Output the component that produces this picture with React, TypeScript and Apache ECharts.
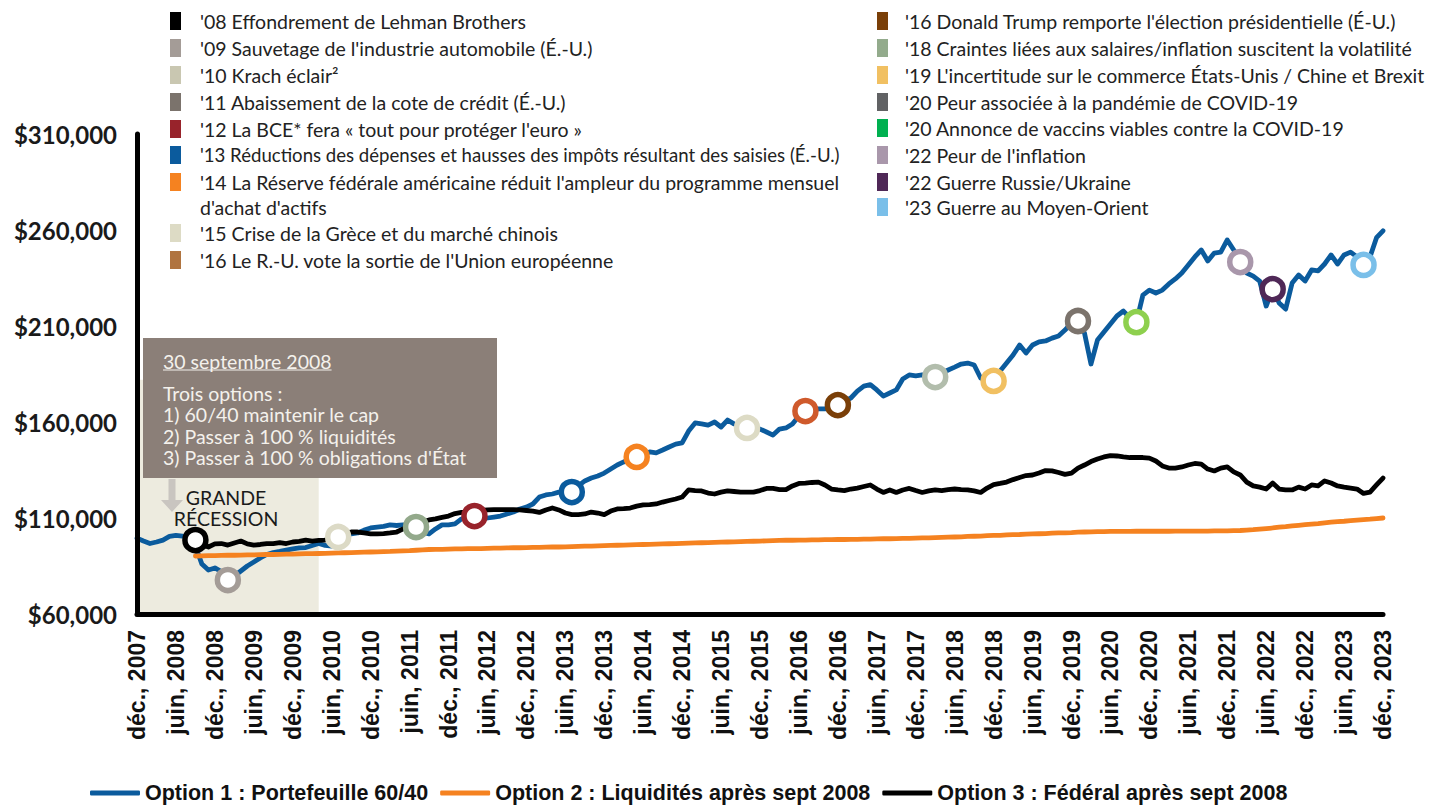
import React, { useEffect, useRef } from "react";
import * as echarts from "echarts";

// ---------- DATA ----------
const MONTHS = ["janv.", "févr.", "mars", "avr.", "mai", "juin", "juil.", "août", "sept.", "oct.", "nov.", "déc."];
const categories: string[] = ["déc., 2007"];
for (let y = 2008; y <= 2023; y++) for (let m = 0; m < 12; m++) categories.push(`${MONTHS[m]}, ${y}`);

const yTicks = [60, 110, 160, 210, 260, 310]; // thousands of $

// Option 1 : Portefeuille 60/40 (thousands of $), déc. 2007 .. déc. 2023
const option1 = [
  99.5, 98.0, 96.7, 97.5, 98.5, 100.4, 101.0, 100.6, 99.6, 95.4,
  86.0, 82.9, 84.0, 82.1, 77.7, 79.8, 82.4, 85.0, 87.1, 89.2,
  91.0, 92.0, 92.6, 93.3, 93.9, 94.4, 94.6, 95.7, 96.7, 95.7,
  95.4, 100.1, 101.1, 101.7, 102.2, 103.7, 104.8, 105.3, 105.6, 106.4,
  106.1, 106.4, 106.1, 105.3, 102.7, 101.7, 104.3, 106.4, 106.4, 106.9,
  109.5, 110.5, 111.0, 110.5, 110.0, 110.5, 111.0, 112.1, 113.1, 114.7,
  115.7, 117.3, 120.9, 122.0, 122.5, 123.5, 123.0, 123.5, 126.7, 129.3,
  130.8, 131.9, 133.4, 135.5, 137.6, 139.2, 140.7, 141.8, 142.8, 144.4,
  143.9, 145.4, 147.0, 148.5, 149.1, 155.3, 159.5, 159.0, 158.4, 160.0,
  157.4, 161.0, 159.0, 157.4, 156.9, 156.9, 156.3, 154.8, 153.2, 156.3,
  156.9, 159.0, 163.1, 165.7, 166.2, 166.8, 166.8, 167.8, 168.8, 170.9,
  172.5, 176.1, 178.7, 179.5, 176.7, 173.5, 175.1, 176.7, 182.4, 184.5,
  184.0, 184.5, 184.0, 183.4, 185.5, 187.1, 188.6, 190.2, 190.7, 189.7,
  182.9, 181.4, 181.4, 186.6, 190.7, 194.9, 200.1, 195.9, 200.1, 201.7,
  202.2, 203.7, 204.8, 207.9, 211.6, 212.6, 206.3, 190.2, 202.7, 206.9,
  211.0, 215.2, 217.8, 214.2, 212.0, 226.1, 228.7, 227.2, 228.7, 231.9,
  234.5, 237.6, 241.8, 246.0, 249.6, 243.9, 248.0, 248.5, 254.8, 249.6,
  243.3, 237.6, 236.0, 233.4, 220.4, 229.2, 222.0, 218.8, 232.4, 236.6,
  233.4, 239.2, 238.7, 242.3, 247.0, 242.3, 247.0, 248.5, 246.0, 241.8,
  246.0, 256.0, 259.6,
];

// Option 2 : Liquidités après sept 2008 (starts sept. 2008)
const option2 = [
  null, null, null, null, null, null, null, null, null,
  90.2, 90.3, 90.4, 90.4, 90.5, 90.6, 90.6, 90.7, 90.8, 90.8,
  90.9, 91.0, 91.0, 91.1, 91.2, 91.2, 91.3, 91.4, 91.4, 91.5,
  91.6, 91.7, 91.8, 91.9, 92.0, 92.1, 92.2, 92.3, 92.4, 92.5,
  92.6, 92.8, 92.9, 93.0, 93.2, 93.4, 93.6,
  93.7, 93.7, 93.8, 93.9, 93.9, 94.0, 94.1, 94.1, 94.2, 94.3,
  94.3, 94.4, 94.5, 94.5, 94.6, 94.7, 94.7, 94.8, 94.9, 94.9,
  95.0, 95.1, 95.2, 95.3, 95.4,
  95.5, 95.6, 95.7, 95.8, 95.9, 96.0, 96.1, 96.2, 96.3, 96.4,
  96.5, 96.6, 96.7, 96.8, 96.9, 97.0, 97.1, 97.2, 97.3, 97.4,
  97.5, 97.6, 97.7, 97.8, 97.9, 98.0, 98.1, 98.2, 98.3, 98.4,
  98.4, 98.5,
  98.5, 98.6, 98.6, 98.7, 98.7, 98.8, 98.8, 98.9, 98.9, 99.0,
  99.0, 99.1, 99.2, 99.2, 99.3, 99.4, 99.4, 99.5, 99.6,
  99.7, 99.8, 99.9, 100.0, 100.1, 100.2, 100.4, 100.5, 100.6, 100.8,
  100.9, 101.0, 101.2, 101.3, 101.4, 101.6, 101.7, 101.8, 101.9, 102.1,
  102.2, 102.3, 102.4, 102.6, 102.7,
  102.8, 102.9, 102.9, 103.0, 103.0, 103.0, 103.0, 103.1, 103.1, 103.1,
  103.1, 103.1, 103.1, 103.2, 103.2, 103.2, 103.2, 103.2, 103.2, 103.3,
  103.3, 103.3, 103.4, 103.5,
  103.7, 103.9, 104.2, 104.5, 104.8, 105.2, 105.5, 105.9, 106.2, 106.5,
  106.8, 107.1, 107.5, 107.8, 108.1, 108.3, 108.6, 108.9, 109.2, 109.4,
  109.7, 110.0,
];

// Option 3 : Fédéral après sept 2008 (starts sept. 2008)
const option3 = [
  null, null, null, null, null, null, null, null, null,
  98.5, 95.9, 94.9, 96.5, 96.7, 95.9, 97.0, 98.0, 96.5, 95.9,
  96.2, 96.7, 96.7, 97.2, 96.7, 97.5, 97.8, 98.5, 98.0, 98.3,
  98.5, 99.6, 101.1, 102.2, 102.7, 102.7, 102.2, 101.7, 101.7, 101.9,
  102.2, 102.7, 104.3, 105.8, 105.8, 107.9, 109.0, 109.5, 110.3, 111.0,
  112.3, 112.9, 113.1, 113.6, 113.9, 114.2, 114.4, 114.4, 114.4, 114.4,
  114.2, 113.9, 113.6, 112.9, 114.2, 115.2, 114.2, 112.6, 111.8, 111.8,
  112.1, 113.1, 112.6, 111.8, 113.6, 114.7, 114.9, 115.2, 116.2, 116.8,
  117.0, 117.3, 118.3, 119.1, 119.9, 120.9, 124.6, 124.3, 124.1, 123.0,
  122.5, 123.5, 124.1, 123.8, 123.5, 123.5, 123.5, 124.3, 125.4, 125.4,
  124.8, 124.8, 126.7, 128.0, 128.2, 128.5, 128.7, 127.2, 125.1, 124.6,
  124.3, 125.1, 125.6, 126.4, 127.2, 125.1, 123.3, 124.6, 123.3, 124.6,
  125.4, 124.3, 123.3, 124.1, 124.6, 124.3, 124.8, 125.1, 124.8, 124.6,
  124.1, 123.3, 125.6, 127.4, 128.0, 128.7, 130.0, 131.1, 132.1, 132.4,
  133.4, 134.7, 134.5, 133.7, 132.7, 133.4, 136.0, 137.6, 139.4, 140.7,
  141.8, 142.5, 142.3, 141.8, 141.5, 141.5, 141.5, 141.2, 139.7, 137.1,
  136.0, 136.0, 136.6, 137.6, 138.4, 138.1, 135.5, 134.5, 136.0, 136.6,
  134.0, 132.4, 128.7, 126.7, 126.1, 125.1, 128.2, 125.1, 124.6, 124.6,
  126.1, 125.1, 127.2, 126.7, 129.3, 128.2, 126.7, 126.1, 125.6, 125.1,
  122.8, 123.5, 127.2, 130.8,
];

const seriesNames = [
  "Option 1 : Portefeuille 60/40",
  "Option 2 : Liquidités après sept 2008",
  "Option 3 : Fédéral après sept 2008",
];
const seriesColors = ["#0b5b9d", "#f58220", "#000000"];

// events: label, legend colour, marker colour, month index, line it sits on
const eventLabels = [
  "'08 Effondrement de Lehman Brothers",
  "'09 Sauvetage de l'industrie automobile (É.-U.)",
  "'10 Krach éclair²",
  "'11 Abaissement de la cote de crédit (É.-U.)",
  "'12 La BCE* fera « tout pour protéger l'euro »",
  "'13 Réductions des dépenses et hausses des impôts résultant des saisies (É.-U.)",
  "'14 La Réserve fédérale américaine réduit l'ampleur du programme mensuel\nd'achat d'actifs",
  "'15 Crise de la Grèce et du marché chinois",
  "'16 Le R.-U. vote la sortie de l'Union européenne",
  "'16 Donald Trump remporte l'élection présidentielle (É-U.)",
  "'18 Craintes liées aux salaires/inflation suscitent la volatilité",
  "'19 L'incertitude sur le commerce États-Unis / Chine et Brexit",
  "'20 Peur associée à la pandémie de COVID-19",
  "'20 Annonce de vaccins viables contre la COVID-19",
  "'22 Peur de l'inflation",
  "'22 Guerre Russie/Ukraine",
  "'23 Guerre au Moyen-Orient",
];
const eventLegendColors = [
  "#000000", "#a49c97", "#c9c7b1", "#7b736c", "#98232b", "#0b5b9d", "#f58220", "#dddbc5", "#b07440",
  "#7a3f08", "#93ab8c", "#f1c062", "#616264", "#00b050", "#a997ab", "#4f2857", "#7abfe9",
];
const eventMarkerColors = [
  "#000000", "#a49c97", "#dcdac6", "#93a98b", "#98232b", "#0b5b9d", "#f58220", "#dddbc5", "#cf5a2c",
  "#7a3f08", "#b2bdac", "#f1c062", "#7b736c", "#8ed04e", "#a997ab", "#4f2857", "#7abfe9",
];
const eventMonthIndex = [9, 14, 31, 43, 52, 67, 77, 94, 103, 108, 123, 132, 145, 154, 170, 175, 189];
const eventOnLine = ["black", "blue", "blue", "blue", "blue", "blue", "blue", "blue", "blue", "blue", "blue", "blue", "blue", "blue", "blue", "blue", "blue"];

const noteTitle = "30 septembre 2008";
const noteLines = [
  "Trois options :",
  "1) 60/40 maintenir le cap",
  "2) Passer à 100 % liquidités",
  "3) Passer à 100 % obligations d'État",
];
const recessionLabel = ["GRANDE", "RÉCESSION"];

// ---------- LAYOUT ----------
const W = 1438;
const H = 805;
const LEGEND_FONT = "Lato";
const LEGEND_SIZE = 19.5;
const leftRowsY = [21, 48, 75, 102, 129, 155, 182, 233, 260];
const rightRowsY = [21, 48, 75, 102, 128, 155, 182, 207];
const LINE_PITCH = 25;

function measure(text: string, font: string): number {
  const c = document.createElement("canvas").getContext("2d");
  if (!c) return text.length * 9;
  c.font = font;
  return c.measureText(text).width;
}

function buildGraphic() {
  const els: any[] = [];
  // event legend
  eventLabels.forEach((label, i) => {
    const left = i < 9;
    const rowY = left ? leftRowsY[i] : rightRowsY[i - 9];
    const sqX = left ? 170 : 877;
    const txX = left ? 200 : 905;
    const maxW = left ? 640 : 520;
    const lines = label.split("\n");
    let size = LEGEND_SIZE;
    const w = Math.max(...lines.map((l) => measure(l, `${size}px ${LEGEND_FONT}`)));
    if (w > maxW) size = (size * maxW) / w;
    els.push({
      type: "rect",
      shape: { x: sqX, y: rowY - 9, width: 11, height: 18 },
      style: { fill: eventLegendColors[i] },
      silent: true,
    });
    lines.forEach((l, k) => {
      els.push({
        type: "text",
        x: txX,
        y: rowY + k * LINE_PITCH,
        style: {
          text: l,
          fill: "#222222",
          fontFamily: LEGEND_FONT,
          fontSize: size,
          verticalAlign: "middle",
          align: "left",
        },
        silent: true,
      });
    });
  });

  // annotation box
  els.push({
    type: "rect",
    shape: { x: 143, y: 338, width: 354, height: 140 },
    style: { fill: "#8b7f78" },
    z: 20,
    silent: true,
  });
  const titleW = measure(noteTitle, `${LEGEND_SIZE}px ${LEGEND_FONT}`);
  els.push({
    type: "text",
    x: 163,
    y: 361,
    z: 21,
    style: { text: noteTitle, fill: "#f4f1ec", fontFamily: LEGEND_FONT, fontSize: LEGEND_SIZE, verticalAlign: "middle" },
    silent: true,
  });
  els.push({
    type: "line",
    z: 21,
    shape: { x1: 163, y1: 370, x2: 163 + titleW, y2: 370 },
    style: { stroke: "#f4f1ec", lineWidth: 1.2 },
    silent: true,
  });
  noteLines.forEach((l, k) => {
    els.push({
      type: "text",
      x: 163,
      y: 393 + k * 21.5,
      z: 21,
      style: { text: l, fill: "#f4f1ec", fontFamily: LEGEND_FONT, fontSize: LEGEND_SIZE, verticalAlign: "middle" },
      silent: true,
    });
  });
  // arrow
  els.push({
    type: "polygon",
    z: 21,
    shape: {
      points: [
        [168.5, 479], [175.5, 479], [175.5, 500], [183, 500], [172, 512], [161, 500], [168.5, 500],
      ],
    },
    style: { fill: "#c9c5c0" },
    silent: true,
  });
  recessionLabel.forEach((l, k) => {
    els.push({
      type: "text",
      x: 226,
      y: 497 + k * 21.5,
      z: 21,
      style: { text: l, fill: "#1a1a1a", fontFamily: LEGEND_FONT, fontSize: LEGEND_SIZE, align: "center", verticalAlign: "middle" },
      silent: true,
    });
  });
  return els;
}

export default function App() {
  const ref = useRef<HTMLDivElement>(null);
  useEffect(() => {
    if (!ref.current) return;
    const chart = echarts.init(ref.current, undefined, { renderer: "svg", width: W, height: H });
    const lines = [option1, option2, option3];
    const markerData = eventMonthIndex.map((idx, i) => ({
      value: [idx, (eventOnLine[i] === "black" ? option3 : option1)[idx]],
      itemStyle: { borderColor: eventMarkerColors[i] },
    }));
    const option: any = {
      animation: false,
      backgroundColor: "#ffffff",
      grid: { left: 137, right: 55, top: 134, bottom: 191, containLabel: false },
      xAxis: {
        type: "category",
        data: categories,
        boundaryGap: false,
        z: 8,
        axisLine: { lineStyle: { color: "#000000", width: 5 } },
        axisTick: { show: false },
        splitLine: { show: false },
        axisLabel: {
          interval: (i: number) => i % 6 === 0,
          rotate: 90,
          margin: 16,
          fontFamily: "Liberation Sans, Arial, sans-serif",
          fontWeight: "bold",
          fontSize: 23,
          color: "#111111",
        },
      },
      yAxis: {
        type: "value",
        min: 60,
        max: 310,
        z: 8,
        axisLine: { show: true, lineStyle: { color: "#000000", width: 5 } },
        axisTick: { show: false },
        splitLine: { show: false },
        axisLabel: {
          customValues: yTicks,
          formatter: (v: number) => `$${v},000`,
          fontFamily: "Lato",
          fontWeight: "bold",
          fontSize: 24,
          color: "#1a1a1a",
          margin: 20,
        },
      },
      legend: {
        data: seriesNames,
        left: 90,
        top: 782,
        padding: 0,
        itemWidth: 50,
        itemHeight: 5,
        itemGap: 12,
        icon: "roundRect",
        selectedMode: false,
        textStyle: {
          fontFamily: "Liberation Sans, Arial, sans-serif",
          fontWeight: "bold",
          fontSize: 21.5,
          lineHeight: 20,
          color: "#111111",
        },
      },
      graphic: buildGraphic(),
      series: [
        ...lines.map((d, i) => ({
          name: seriesNames[i],
          type: "line",
          data: d,
          symbol: "none",
          showSymbol: false,
          connectNulls: false,
          z: 3,
          lineStyle: { color: seriesColors[i], width: 4.8, cap: "round", join: "round" },
          itemStyle: { color: seriesColors[i] },
          ...(i === 0
            ? {
                markArea: {
                  silent: true,
                  itemStyle: { color: "#edebdf" },
                  data: [[{ xAxis: categories[0], yAxis: 182 }, { xAxis: categories[28], yAxis: 60 }]],
                },
              }
            : {}),
        })),
        {
          name: "events",
          type: "scatter",
          data: markerData,
          symbol: "circle",
          symbolSize: 21,
          z: 6,
          silent: true,
          itemStyle: { color: "#ffffff", borderWidth: 5.5, opacity: 1 },
        },
      ],
    };
    chart.setOption(option);
    return () => chart.dispose();
  }, []);
  return <div ref={ref} style={{ position: "fixed", left: 0, top: 0, width: W, height: H, background: "#fff" }} />;
}
